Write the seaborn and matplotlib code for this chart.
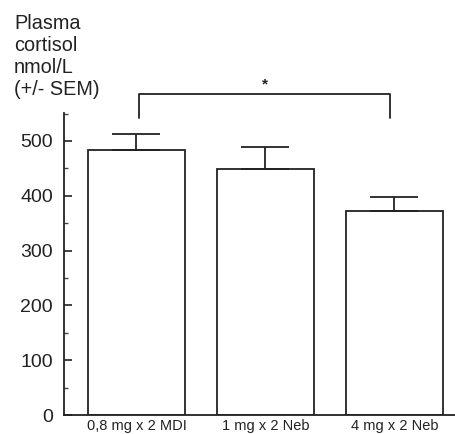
import matplotlib
matplotlib.use("Agg")
import matplotlib.pyplot as plt
from matplotlib.ticker import MultipleLocator, FixedLocator
import seaborn as sns
import numpy as np

categories = ["0,8 mg x 2 MDI", "1 mg x 2 Neb", "4 mg x 2 Neb"]
means = [484, 448, 372]
sems = [28, 41, 26]
y_ticks = [0, 100, 200, 300, 400, 500]
ylabel_text = "Plasma\ncortisol\nnmol/L\n(+/- SEM)"
sig_label = "*"

sns.set_theme(style="white")
plt.rcParams["font.family"] = ["Liberation Sans", "DejaVu Sans"]

fig = plt.figure(figsize=(4.56, 4.34), dpi=100)
ax = fig.add_axes([64/456, 19/434, (455-64)/456, (415-113)/434])

sns.barplot(x=categories, y=means, ax=ax, color="white", edgecolor="#222222",
            linewidth=1.3, width=0.75, saturation=1, errorbar=None)
for p in ax.patches:
    p.set_facecolor("white")

xs = np.arange(len(categories))
ax.errorbar(xs, means, yerr=[np.zeros(len(sems)), sems], fmt="none",
            ecolor="#222222", elinewidth=1.3, capsize=17.6, capthick=1.3, zorder=3)

ax.set_xlim(-0.562, 2.469)
ax.set_ylim(0, 551)
ax.yaxis.set_major_locator(FixedLocator(y_ticks))
ax.yaxis.set_minor_locator(MultipleLocator(50))
ax.xaxis.set_minor_locator(FixedLocator(xs))

for s in ["top", "right"]:
    ax.spines[s].set_visible(False)
for s in ["left", "bottom"]:
    ax.spines[s].set_visible(True)
    ax.spines[s].set_color("#222222")
    ax.spines[s].set_linewidth(1.3)

ax.tick_params(axis="y", which="major", direction="in", length=6, width=1.2,
               color="#222222", labelsize=14, pad=8, left=True, labelcolor="#222222")
ax.tick_params(axis="y", which="minor", direction="in", length=3, width=1.0,
               color="#444444", left=True)
ax.tick_params(axis="x", which="major", length=0, labelsize=10.5, pad=3,
               labelcolor="#222222")
ax.tick_params(axis="x", which="minor", direction="in", length=3, width=1.0,
               color="#444444", bottom=True)
ax.set_xlabel("")
ax.set_ylabel("")
ax.set_facecolor("white")

# significance bracket
bx0, bx1, by0, by1 = 0.02, 1.965, 541, 585
ax.plot([bx0, bx0, bx1, bx1], [by0, by1, by1, by0], color="#222222",
        linewidth=1.3, clip_on=False)
ax.text((bx0 + bx1) / 2 + 0.0, 603, sig_label, ha="center", va="center",
        fontsize=11, fontweight="bold", color="#222222", clip_on=False)

fig.text(14/456, 1 - 14/434, ylabel_text, ha="left", va="top", fontsize=14.3,
         linespacing=1.2, color="#222222")

fig.savefig("out.png", dpi=100, facecolor="white")
